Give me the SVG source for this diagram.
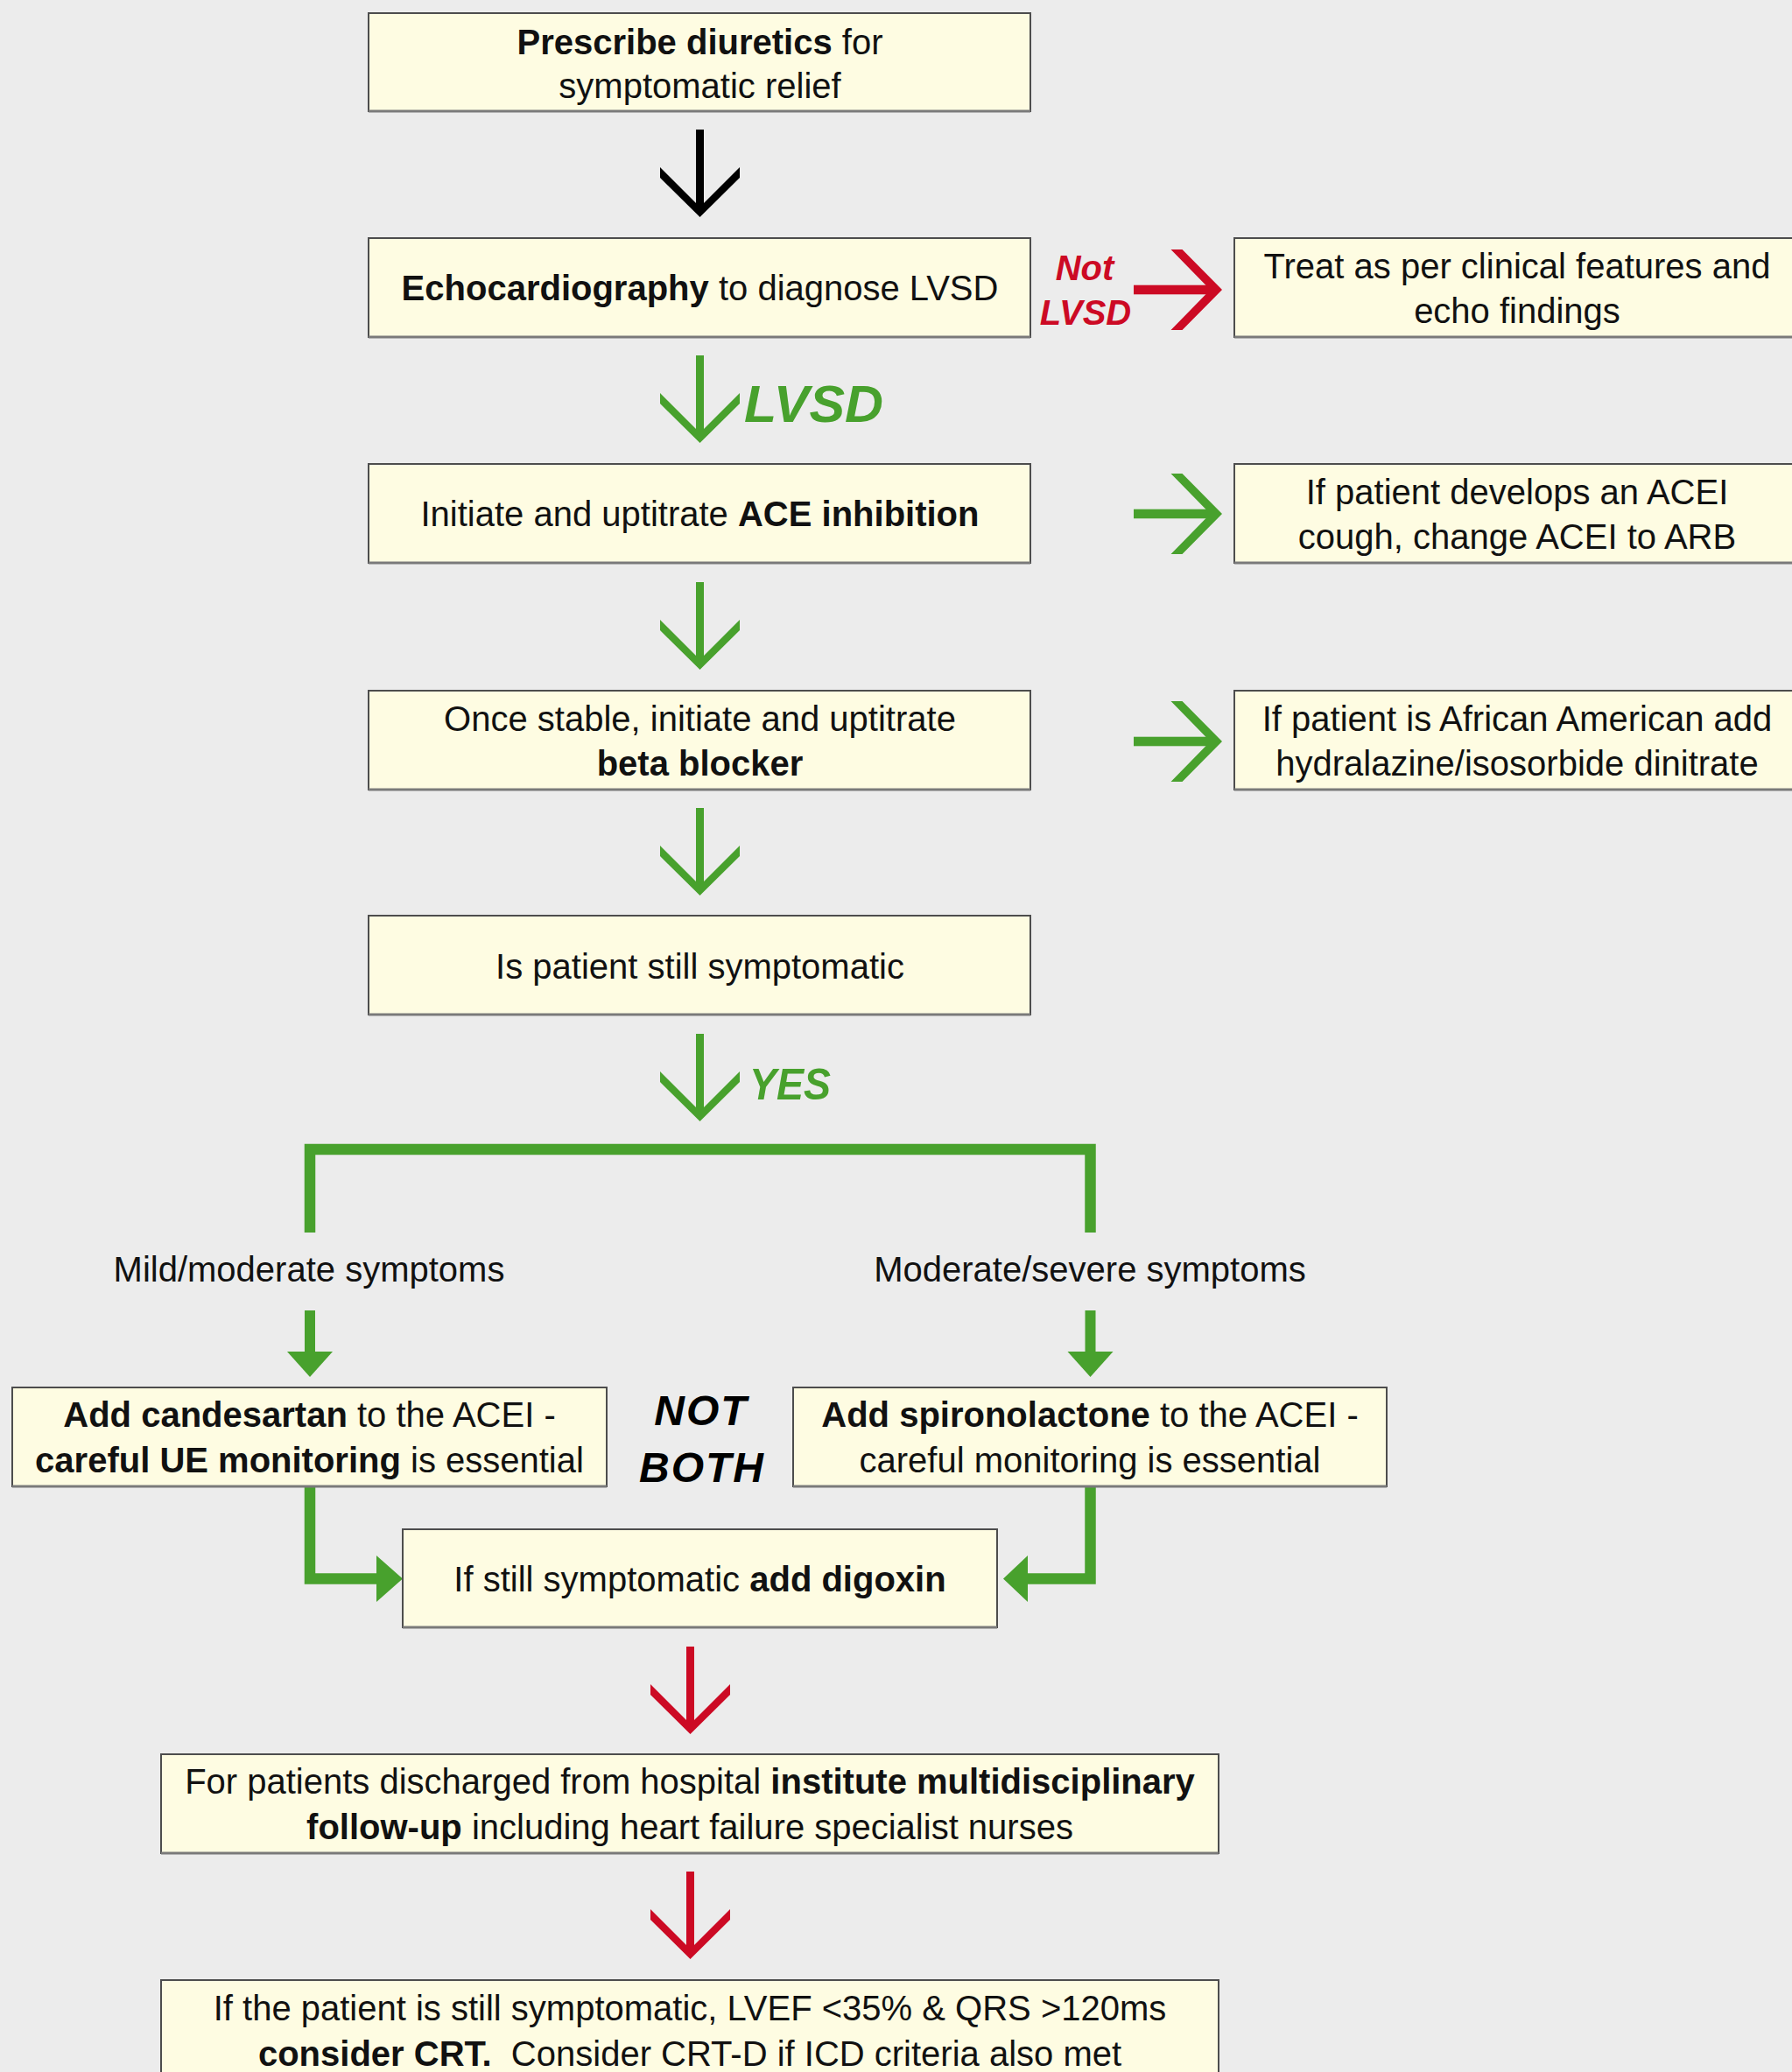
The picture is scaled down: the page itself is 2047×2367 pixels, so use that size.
<svg xmlns="http://www.w3.org/2000/svg" xmlns:xlink="http://www.w3.org/1999/xlink" width="2047" height="2367" viewBox="0 0 2047 2367">
<style>
.bg{fill:#ececec}
.box{fill:#fefce2;stroke:#4d4d4d;stroke-width:2}
.sh{stroke:#7a7a7a;stroke-width:3}
.t{font-family:"Liberation Sans",Arial,sans-serif;font-size:40px;fill:#111;text-anchor:middle}
.b{font-weight:bold}
.lbl{font-family:"Liberation Sans",Arial,sans-serif;font-weight:bold;font-style:italic}
.g{fill:#48a12d}
.r{fill:#cc0a24}
.k{fill:#000}
.gl{fill:none;stroke:#48a12d;stroke-width:12.5;stroke-linejoin:miter}
</style>
<defs>
<g id="dA"><rect x="-4.5" y="-100" width="9" height="94"/><polygon points="-45.5,-57 0,-11.5 45.5,-57 45.5,-45 0,0 -45.5,-45"/></g>
<g id="rA"><rect x="-101" y="-5.3" width="95" height="10.6"/><polygon points="-58.5,-46 -45.5,-46 0,0 -45.5,46 -58.5,46 -13.5,0"/></g>
</defs>
<rect class="bg" x="0" y="0" width="2047" height="2367"/>

<g id="connectors">
<use xlink:href="#dA" class="k" transform="translate(799.5,248)"/>
<use xlink:href="#dA" class="g" transform="translate(799.5,506)"/>
<use xlink:href="#dA" class="g" transform="translate(799.5,765)"/>
<use xlink:href="#dA" class="g" transform="translate(799.5,1023)"/>
<use xlink:href="#dA" class="g" transform="translate(799.5,1281)"/>
<use xlink:href="#dA" class="r" transform="translate(788.5,1981)"/>
<use xlink:href="#dA" class="r" transform="translate(788.5,2238)"/>
<use xlink:href="#rA" class="r" transform="translate(1396,331)"/>
<use xlink:href="#rA" class="g" transform="translate(1396,587)"/>
<use xlink:href="#rA" class="g" transform="translate(1396,847)"/>
<path class="gl" d="M354,1408 V1313 H1245.5 V1408"/>
<rect class="g" x="348" y="1497" width="12" height="50"/>
<polygon class="g" points="328,1544 380,1544 354,1573"/>
<rect class="g" x="1239.5" y="1497" width="12" height="50"/>
<polygon class="g" points="1219.5,1544 1271.5,1544 1245.5,1573"/>
<path class="gl" d="M354,1698 V1803.5 H432"/>
<polygon class="g" points="430,1777 430,1830 460,1803.5"/>
<path class="gl" d="M1245.5,1698 V1803.5 H1172"/>
<polygon class="g" points="1174,1777 1174,1830 1146,1803.5"/>
<text class="lbl g" x="850" y="482" font-size="60" textLength="159" lengthAdjust="spacingAndGlyphs">LVSD</text>
<text class="lbl r" x="1239" y="320" font-size="40" text-anchor="middle">Not</text>
<text class="lbl r" x="1240" y="371" font-size="40" text-anchor="middle">LVSD</text>
<text class="lbl g" x="856" y="1256" font-size="50" textLength="93" lengthAdjust="spacingAndGlyphs">YES</text>
<text class="t" x="353" y="1464">Mild/moderate symptoms</text>
<text class="t" x="1245" y="1464">Moderate/severe symptoms</text>
<text class="lbl k" x="801" y="1628" font-size="48" text-anchor="middle" letter-spacing="2">NOT</text>
<text class="lbl k" x="802" y="1693" font-size="48" text-anchor="middle" letter-spacing="2">BOTH</text>
</g>

<g id="n1">
<rect class="box" x="421" y="15" width="756" height="112"/><line class="sh" x1="421" y1="127" x2="1177" y2="127"/>
<text class="t" x="799.5" y="62"><tspan class="b">Prescribe diuretics</tspan> for</text>
<text class="t" x="799.5" y="112">symptomatic relief</text>
</g>
<g id="n2">
<rect class="box" x="421" y="272" width="756" height="113"/><line class="sh" x1="421" y1="385" x2="1177" y2="385"/>
<text class="t" x="799.5" y="343"><tspan class="b">Echocardiography</tspan> to diagnose LVSD</text>
</g>
<g id="n3">
<rect class="box" x="1410" y="272" width="660" height="113"/><line class="sh" x1="1410" y1="385" x2="2070" y2="385"/>
<text class="t" x="1733" y="318">Treat as per clinical features and</text>
<text class="t" x="1733" y="369">echo findings</text>
</g>
<g id="n4">
<rect class="box" x="421" y="530" width="756" height="113"/><line class="sh" x1="421" y1="643" x2="1177" y2="643"/>
<text class="t" x="799.5" y="601">Initiate and uptitrate <tspan class="b">ACE inhibition</tspan></text>
</g>
<g id="n5">
<rect class="box" x="1410" y="530" width="660" height="113"/><line class="sh" x1="1410" y1="643" x2="2070" y2="643"/>
<text class="t" x="1733" y="576">If patient develops an ACEI</text>
<text class="t" x="1733" y="627">cough, change ACEI to ARB</text>
</g>
<g id="n6">
<rect class="box" x="421" y="789" width="756" height="113"/><line class="sh" x1="421" y1="902" x2="1177" y2="902"/>
<text class="t" x="799.5" y="835">Once stable, initiate and uptitrate</text>
<text class="t b" x="799.5" y="886">beta blocker</text>
</g>
<g id="n7">
<rect class="box" x="1410" y="789" width="660" height="113"/><line class="sh" x1="1410" y1="902" x2="2070" y2="902"/>
<text class="t" x="1733" y="835">If patient is African American add</text>
<text class="t" x="1733" y="886">hydralazine/isosorbide dinitrate</text>
</g>
<g id="n8">
<rect class="box" x="421" y="1046" width="756" height="113"/><line class="sh" x1="421" y1="1159" x2="1177" y2="1159"/>
<text class="t" x="799.5" y="1118">Is patient still symptomatic</text>
</g>
<g id="n9">
<rect class="box" x="14" y="1585" width="679" height="113"/><line class="sh" x1="14" y1="1698" x2="693" y2="1698"/>
<text class="t" x="353.5" y="1630"><tspan class="b">Add candesartan</tspan> to the ACEI -</text>
<text class="t" x="353.5" y="1682"><tspan class="b">careful UE monitoring</tspan> is essential</text>
</g>
<g id="n10">
<rect class="box" x="906" y="1585" width="678" height="113"/><line class="sh" x1="906" y1="1698" x2="1584" y2="1698"/>
<text class="t" x="1245" y="1630"><tspan class="b">Add spironolactone</tspan> to the ACEI -</text>
<text class="t" x="1245" y="1682">careful monitoring is essential</text>
</g>
<g id="n11">
<rect class="box" x="460" y="1747" width="679" height="112"/><line class="sh" x1="460" y1="1859" x2="1139" y2="1859"/>
<text class="t" x="799.5" y="1818">If still symptomatic <tspan class="b">add digoxin</tspan></text>
</g>
<g id="n12">
<rect class="box" x="184" y="2004" width="1208" height="113"/><line class="sh" x1="184" y1="2117" x2="1392" y2="2117"/>
<text class="t" x="788" y="2049">For patients discharged from hospital <tspan class="b">institute multidisciplinary</tspan></text>
<text class="t" x="788" y="2101"><tspan class="b">follow-up</tspan> including heart failure specialist nurses</text>
</g>
<g id="n13">
<rect class="box" x="184" y="2262" width="1208" height="130"/>
<text class="t" x="788" y="2308">If the patient is still symptomatic, LVEF &lt;35% &amp; QRS &gt;120ms</text>
<text class="t" x="788" y="2360" xml:space="preserve"><tspan class="b">consider CRT.</tspan>  Consider CRT-D if ICD criteria also met</text>
</g>
</svg>
